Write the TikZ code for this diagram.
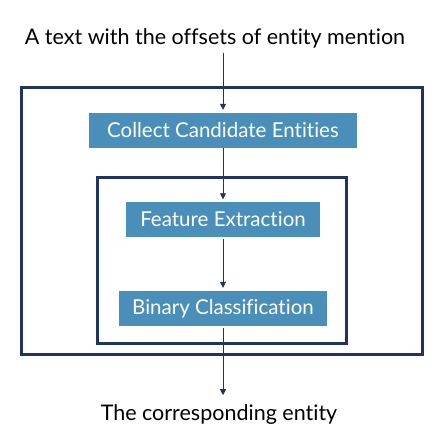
\documentclass[tikz,border=0pt]{standalone}
\usepackage{fontspec}
\setmainfont{Lato}[Ligatures=NoCommon]
\usetikzlibrary{arrows.meta}
\definecolor{stepblue}{RGB}{74,143,185}
\definecolor{framenavy}{RGB}{31,52,96}

\begin{document}
\begin{tikzpicture}[x=1pt,y=1pt,yscale=-1,
    stepbox/.style={fill=stepblue,text=white,inner sep=0pt,minimum height=35pt,font=\fontsize{20.5}{24}\selectfont},
    plain/.style={inner sep=0.75pt,font=\fontsize{21.5}{24}\selectfont},
    frame/.style={draw=framenavy,line width=3pt},
    link/.style={draw=framenavy,line width=0.8pt,-{Triangle[length=6pt,width=6pt]}}]
    \useasboundingbox (0,0) rectangle (442,442);
    % frames
    \draw[frame] (21,87) rectangle (422,354);
    \draw[frame] (97,177) rectangle (346,343);
    % texts and steps
    \node[plain,anchor=base] (input) at (215,44) {A text with the offsets of entity mention};
    \node[stepbox,minimum width=268pt] (collect) at (223,130.5) {Collect Candidate Entities};
    \node[stepbox,minimum width=194pt] (feature) at (223,219) {Feature Extraction};
    \node[stepbox,minimum width=208pt] (binary) at (223,308.5) {Binary Classification};
    \node[plain,anchor=base] (output) at (219,420) {The corresponding entity};
    % arrows
    \draw[link,shorten <=4pt,shorten >=3pt] (input.south -| collect.north) -- (collect.north);
    \draw[link,shorten >=2pt] (collect) -- (feature);
    \draw[link,shorten <=2pt,shorten >=3pt] (feature) -- (binary);
    \draw[link,shorten <=2pt,shorten >=8pt] (binary.south) -- (output.north -| binary.south);
\end{tikzpicture}
\end{document}
